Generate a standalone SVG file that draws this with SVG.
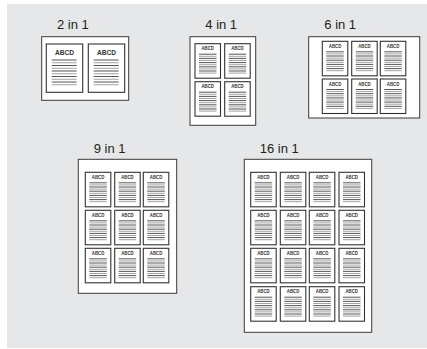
<svg xmlns="http://www.w3.org/2000/svg" xmlns:xlink="http://www.w3.org/1999/xlink" width="427" height="349" viewBox="0 0 427 349">
<style>
.sheet{fill:#fff;stroke:#3a3a3a;stroke-width:1}
.pg{fill:#fff;stroke:#333;stroke-width:1.1}
.dk{stroke:#2a2a2a;stroke-width:0.8;fill:none}
.gy{stroke:#8a8a8a;stroke-width:0.8;fill:none}
.lbl{font-family:"Liberation Sans",Arial,sans-serif;font-size:13px;fill:#231f20}
.ab{font-family:"Liberation Sans",Arial,sans-serif;font-weight:bold;font-size:5px;fill:#333;text-anchor:middle}
.ab2{font-family:"Liberation Sans",Arial,sans-serif;font-weight:bold;font-size:8px;fill:#333;text-anchor:middle}
</style>
<defs>
<g id="sp">
<rect class="pg" x="0" y="0" width="25.5" height="34.5"/>
<path class="dk" d="M4 10.5h17.5M4 14.7h17.5M4 18.9h17.5M4 23.1h17.5M4 27.3h17.5"/>
<path class="gy" d="M4 12.6h17.5M4 16.8h17.5M4 21h17.5M4 25.2h17.5M4 29.4h17.5"/>
</g>
<g id="bp">
<rect class="pg" x="0" y="0" width="36.4" height="48.3"/>
<path class="dk" d="M5.4 16h25M5.4 21.5h25M5.4 27h25M5.4 32.5h25M5.4 38h25"/>
<path class="gy" d="M5.4 18.75h25M5.4 24.25h25M5.4 29.75h25M5.4 35.25h25M5.4 40.75h25"/>
</g>
</defs>
<rect x="7" y="4" width="420" height="344" fill="#e6e7e8"/>

<g id="n2">
<text class="lbl" x="57" y="29">2 in 1</text>
<rect class="sheet" x="41.7" y="36.7" width="87" height="63.6"/>
<g transform="translate(46.3,44)"><use xlink:href="#bp"/><text class="ab2" x="18.2" y="11" textLength="19" lengthAdjust="spacingAndGlyphs">ABCD</text></g>
<g transform="translate(88.3,44)"><use xlink:href="#bp"/><text class="ab2" x="18.2" y="11" textLength="19" lengthAdjust="spacingAndGlyphs">ABCD</text></g>
</g>

<g id="n4">
<text class="lbl" x="205.3" y="29">4 in 1</text>
<rect class="sheet" x="190" y="36.7" width="65.7" height="88.6"/>
<g transform="translate(195,43.7)"><use xlink:href="#sp"/><text class="ab" x="12.75" y="6.8" textLength="12.5" lengthAdjust="spacingAndGlyphs">ABCD</text></g>
<g transform="translate(224.7,43.7)"><use xlink:href="#sp"/><text class="ab" x="12.75" y="6.8" textLength="12.5" lengthAdjust="spacingAndGlyphs">ABCD</text></g>
<g transform="translate(195,81.7)"><use xlink:href="#sp"/><text class="ab" x="12.75" y="6.8" textLength="12.5" lengthAdjust="spacingAndGlyphs">ABCD</text></g>
<g transform="translate(224.7,81.7)"><use xlink:href="#sp"/><text class="ab" x="12.75" y="6.8" textLength="12.5" lengthAdjust="spacingAndGlyphs">ABCD</text></g>
</g>

<g id="n6">
<text class="lbl" x="324.3" y="29">6 in 1</text>
<rect class="sheet" x="308.7" y="36.7" width="111" height="81.3"/>
<g transform="translate(322.3,41.3)"><use xlink:href="#sp"/><text class="ab" x="12.75" y="6.8" textLength="12.5" lengthAdjust="spacingAndGlyphs">ABCD</text></g>
<g transform="translate(351.7,41.3)"><use xlink:href="#sp"/><text class="ab" x="12.75" y="6.8" textLength="12.5" lengthAdjust="spacingAndGlyphs">ABCD</text></g>
<g transform="translate(380.3,41.3)"><use xlink:href="#sp"/><text class="ab" x="12.75" y="6.8" textLength="12.5" lengthAdjust="spacingAndGlyphs">ABCD</text></g>
<g transform="translate(322.3,79)"><use xlink:href="#sp"/><text class="ab" x="12.75" y="6.8" textLength="12.5" lengthAdjust="spacingAndGlyphs">ABCD</text></g>
<g transform="translate(351.7,79)"><use xlink:href="#sp"/><text class="ab" x="12.75" y="6.8" textLength="12.5" lengthAdjust="spacingAndGlyphs">ABCD</text></g>
<g transform="translate(380.3,79)"><use xlink:href="#sp"/><text class="ab" x="12.75" y="6.8" textLength="12.5" lengthAdjust="spacingAndGlyphs">ABCD</text></g>
</g>

<g id="n9">
<text class="lbl" x="93.7" y="153.3">9 in 1</text>
<rect class="sheet" x="78.3" y="159.3" width="98.4" height="134"/>
<g transform="translate(85.3,172.3)"><use xlink:href="#sp"/><text class="ab" x="12.75" y="6.8" textLength="12.5" lengthAdjust="spacingAndGlyphs">ABCD</text></g>
<g transform="translate(114.7,172.3)"><use xlink:href="#sp"/><text class="ab" x="12.75" y="6.8" textLength="12.5" lengthAdjust="spacingAndGlyphs">ABCD</text></g>
<g transform="translate(143.3,172.3)"><use xlink:href="#sp"/><text class="ab" x="12.75" y="6.8" textLength="12.5" lengthAdjust="spacingAndGlyphs">ABCD</text></g>
<g transform="translate(85.3,210.3)"><use xlink:href="#sp"/><text class="ab" x="12.75" y="6.8" textLength="12.5" lengthAdjust="spacingAndGlyphs">ABCD</text></g>
<g transform="translate(114.7,210.3)"><use xlink:href="#sp"/><text class="ab" x="12.75" y="6.8" textLength="12.5" lengthAdjust="spacingAndGlyphs">ABCD</text></g>
<g transform="translate(143.3,210.3)"><use xlink:href="#sp"/><text class="ab" x="12.75" y="6.8" textLength="12.5" lengthAdjust="spacingAndGlyphs">ABCD</text></g>
<g transform="translate(85.3,248.3)"><use xlink:href="#sp"/><text class="ab" x="12.75" y="6.8" textLength="12.5" lengthAdjust="spacingAndGlyphs">ABCD</text></g>
<g transform="translate(114.7,248.3)"><use xlink:href="#sp"/><text class="ab" x="12.75" y="6.8" textLength="12.5" lengthAdjust="spacingAndGlyphs">ABCD</text></g>
<g transform="translate(143.3,248.3)"><use xlink:href="#sp"/><text class="ab" x="12.75" y="6.8" textLength="12.5" lengthAdjust="spacingAndGlyphs">ABCD</text></g>
</g>

<g id="n16">
<text class="lbl" x="259.7" y="153.3">16 in 1</text>
<rect class="sheet" x="244.3" y="159.3" width="127.4" height="173"/>
<g transform="translate(250.7,172.3)"><use xlink:href="#sp"/><text class="ab" x="12.75" y="6.8" textLength="12.5" lengthAdjust="spacingAndGlyphs">ABCD</text></g>
<g transform="translate(280.3,172.3)"><use xlink:href="#sp"/><text class="ab" x="12.75" y="6.8" textLength="12.5" lengthAdjust="spacingAndGlyphs">ABCD</text></g>
<g transform="translate(309.3,172.3)"><use xlink:href="#sp"/><text class="ab" x="12.75" y="6.8" textLength="12.5" lengthAdjust="spacingAndGlyphs">ABCD</text></g>
<g transform="translate(339,172.3)"><use xlink:href="#sp"/><text class="ab" x="12.75" y="6.8" textLength="12.5" lengthAdjust="spacingAndGlyphs">ABCD</text></g>
<g transform="translate(250.7,210.3)"><use xlink:href="#sp"/><text class="ab" x="12.75" y="6.8" textLength="12.5" lengthAdjust="spacingAndGlyphs">ABCD</text></g>
<g transform="translate(280.3,210.3)"><use xlink:href="#sp"/><text class="ab" x="12.75" y="6.8" textLength="12.5" lengthAdjust="spacingAndGlyphs">ABCD</text></g>
<g transform="translate(309.3,210.3)"><use xlink:href="#sp"/><text class="ab" x="12.75" y="6.8" textLength="12.5" lengthAdjust="spacingAndGlyphs">ABCD</text></g>
<g transform="translate(339,210.3)"><use xlink:href="#sp"/><text class="ab" x="12.75" y="6.8" textLength="12.5" lengthAdjust="spacingAndGlyphs">ABCD</text></g>
<g transform="translate(250.7,248.3)"><use xlink:href="#sp"/><text class="ab" x="12.75" y="6.8" textLength="12.5" lengthAdjust="spacingAndGlyphs">ABCD</text></g>
<g transform="translate(280.3,248.3)"><use xlink:href="#sp"/><text class="ab" x="12.75" y="6.8" textLength="12.5" lengthAdjust="spacingAndGlyphs">ABCD</text></g>
<g transform="translate(309.3,248.3)"><use xlink:href="#sp"/><text class="ab" x="12.75" y="6.8" textLength="12.5" lengthAdjust="spacingAndGlyphs">ABCD</text></g>
<g transform="translate(339,248.3)"><use xlink:href="#sp"/><text class="ab" x="12.75" y="6.8" textLength="12.5" lengthAdjust="spacingAndGlyphs">ABCD</text></g>
<g transform="translate(250.7,286.7)"><use xlink:href="#sp"/><text class="ab" x="12.75" y="6.8" textLength="12.5" lengthAdjust="spacingAndGlyphs">ABCD</text></g>
<g transform="translate(280.3,286.7)"><use xlink:href="#sp"/><text class="ab" x="12.75" y="6.8" textLength="12.5" lengthAdjust="spacingAndGlyphs">ABCD</text></g>
<g transform="translate(309.3,286.7)"><use xlink:href="#sp"/><text class="ab" x="12.75" y="6.8" textLength="12.5" lengthAdjust="spacingAndGlyphs">ABCD</text></g>
<g transform="translate(339,286.7)"><use xlink:href="#sp"/><text class="ab" x="12.75" y="6.8" textLength="12.5" lengthAdjust="spacingAndGlyphs">ABCD</text></g>
</g>
<g id="connectors"/>
</svg>
